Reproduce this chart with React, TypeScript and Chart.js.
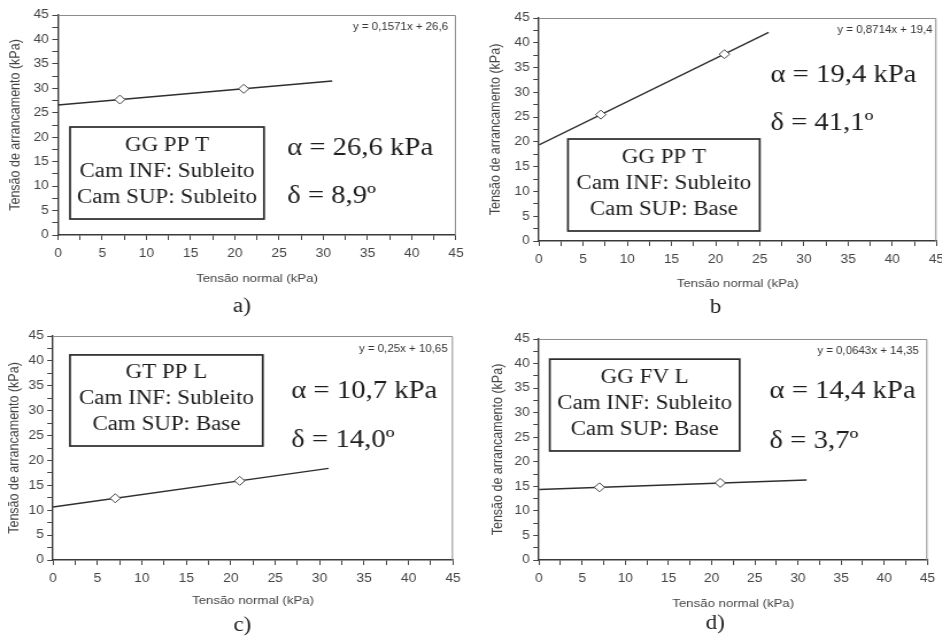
import React, { useEffect, useRef } from 'react';
import { Chart, registerables } from 'chart.js';

Chart.register(...registerables);

// ---------------- DATA ----------------
// Normal stress of the two pull-out tests (kPa)
const testNormalStress = [7, 21];
// Pull-out stress measured in each panel (kPa)
const pulloutA = [27.7, 29.9];
const pulloutB = [25.5, 37.7];
const pulloutC = [12.4, 15.9];
const pulloutD = [14.8, 15.7];
// Trend line end points (kPa)
const trendStressA = [0, 31];
const trendPulloutA = [26.6, 31.5];
const trendStressB = [0, 26];
const trendPulloutB = [19.4, 42.1];
const trendStressC = [0, 31];
const trendPulloutC = [10.65, 18.4];
const trendStressD = [0, 31];
const trendPulloutD = [14.35, 16.3];

const tickLabels = ['0', '5', '10', '15', '20', '25', '30', '35', '40', '45'];
const xAxisTitle = 'Tensão normal (kPa)';
const yAxisTitle = 'Tensão de arrancamento (kPa)';

const equationLabels = ['y = 0,1571x + 26,6', 'y = 0,8714x + 19,4', 'y = 0,25x + 10,65', 'y = 0,0643x + 14,35'];
const alphaLabels = ['α = 26,6 kPa', 'α = 19,4 kPa', 'α = 10,7 kPa', 'α = 14,4 kPa'];
const deltaLabels = ['δ = 8,9º', 'δ = 41,1º', 'δ = 14,0º', 'δ = 3,7º'];
const boxTitles = ['GG PP T', 'GG PP T', 'GT PP L', 'GG FV L'];
const boxLowerLayer = ['Cam INF: Subleito', 'Cam INF: Subleito', 'Cam INF: Subleito', 'Cam INF: Subleito'];
const boxUpperLayer = ['Cam SUP: Subleito', 'Cam SUP: Base', 'Cam SUP: Base', 'Cam SUP: Base'];
const panelLetters = ['a)', 'b', 'c)', 'd)'];

const pulloutSeries = [pulloutA, pulloutB, pulloutC, pulloutD];
const trendStressSeries = [trendStressA, trendStressB, trendStressC, trendStressD];
const trendPulloutSeries = [trendPulloutA, trendPulloutB, trendPulloutC, trendPulloutD];

// ---------------- LAYOUT ----------------
const S = 471 / 410; // horizontal stretch of the scanned figure
const SANS = '"Liberation Sans", Arial, Helvetica, sans-serif';
const SERIF = '"Liberation Serif", "Times New Roman", Times, serif';

type Lay = {
  left: number; top: number; w: number; h: number;
  L: number; R: number; T: number; B: number;
  yTitleX: number; xTitleY: number;
  box: number[]; alpha: number[]; delta: number[]; eq: number[]; letter: number[];
};

const LAYOUT: Lay[] = [
  { left: 0, top: 0, w: 471, h: 318, L: 58, R: 456, T: 15, B: 235, yTitleX: 16, xTitleY: 279,
    box: [1.36, 23.29, 22.09, 3.27], alpha: [25.9, 17.8], delta: [25.9, 7.8], eq: [44.1, 42.5], letter: [20.8, -14.7] },
  { left: 471, top: 0, w: 480, h: 318, L: 68, R: 466, T: 18, B: 241, yTitleX: 25, xTitleY: 284,
    box: [3.28, 24.99, 20.58, 2.02], alpha: [26.2, 33.5], delta: [26.2, 23.8], eq: [44.55, 42.6], letter: [20.0, -13.5] },
  { left: 0, top: 318, w: 471, h: 320, L: 53, R: 453, T: 18, B: 242, yTitleX: 14, xTitleY: 283,
    box: [1.91, 23.6, 41.2, 22.9], alpha: [26.8, 33.9], delta: [26.8, 24.1], eq: [44.4, 42.4], letter: [21.3, -13.3] },
  { left: 471, top: 318, w: 471, h: 320, L: 68, R: 463, T: 21, B: 242, yTitleX: 27, xTitleY: 286,
    box: [1.25, 23.24, 40.9, 22.2], alpha: [26.7, 34.4], delta: [26.7, 24.2], eq: [44.0, 42.6], letter: [20.4, -13.0] },
];

const tickCallback = (v: any) => {
  const n = Number(v);
  return Math.abs(n % 5) < 1e-6 ? tickLabels[Math.round(n / 5)] : '';
};

function makeTextPlugin(i: number) {
  const lay = LAYOUT[i];
  return {
    id: 'panelText' + i,
    afterDraw(chart: any) {
      const { ctx, chartArea: ca, scales } = chart;
      const px = (v: number) => scales.x.getPixelForValue(v);
      const py = (v: number) => scales.y.getPixelForValue(v);
      ctx.save();
      // top / right frame of plot area
      ctx.strokeStyle = '#8c8c8c';
      ctx.lineWidth = 1;
      ctx.beginPath();
      ctx.moveTo(ca.left, ca.top + 0.5);
      ctx.lineTo(ca.right - 0.5, ca.top + 0.5);
      ctx.lineTo(ca.right - 0.5, ca.bottom);
      ctx.stroke();

      // legend-like box
      const [bx0, bx1, by0, by1] = lay.box;
      const x0 = px(bx0), x1 = px(bx1), y0 = py(by0), y1 = py(by1);
      ctx.fillStyle = '#ffffff';
      ctx.fillRect(x0, y0, x1 - x0, y1 - y0);
      ctx.strokeStyle = '#2a2a2a';
      ctx.lineWidth = 1.7;
      ctx.strokeRect(x0, y0, x1 - x0, y1 - y0);
      ctx.fillStyle = '#1e1e1e';
      ctx.font = `20px ${SERIF}`;
      ctx.textAlign = 'center';
      ctx.textBaseline = 'middle';
      const cx = (x0 + x1) / 2, cy = (y0 + y1) / 2 - 1.5;
      [boxTitles[i], boxLowerLayer[i], boxUpperLayer[i]].forEach((t, k) => {
        ctx.fillText(t, cx, cy + (k - 1) * 26);
      });

      // alpha / delta
      ctx.font = `25px ${SERIF}`;
      ctx.textAlign = 'left';
      ctx.fillStyle = '#1e1e1e';
      ctx.fillText(alphaLabels[i], px(lay.alpha[0]), py(lay.alpha[1]));
      ctx.fillText(deltaLabels[i], px(lay.delta[0]), py(lay.delta[1]));

      // trend-line equation
      ctx.font = `10px ${SANS}`;
      ctx.textAlign = 'right';
      ctx.fillStyle = '#333333';
      ctx.fillText(equationLabels[i], px(lay.eq[0]), py(lay.eq[1]));

      // panel letter
      ctx.font = `20px ${SERIF}`;
      ctx.textAlign = 'center';
      ctx.fillStyle = '#1e1e1e';
      ctx.fillText(panelLetters[i], px(lay.letter[0]), py(lay.letter[1]));
      ctx.restore();
    },
  };
}

function makeConfig(i: number): any {
  const lay = LAYOUT[i];
  const xTitleSize = 11.5;
  const yTitleSize = 12.5;
  const points = testNormalStress.map((x, k) => ({ x, y: pulloutSeries[i][k] }));
  const trend = trendStressSeries[i].map((x, k) => ({ x, y: trendPulloutSeries[i][k] }));
  return {
    type: 'scatter',
    data: {
      datasets: [
        {
          data: trend, showLine: true, borderColor: '#2e2e2e', borderWidth: 1.4,
          pointRadius: 0, fill: false, order: 2,
        },
        {
          data: points, showLine: false, pointStyle: 'rectRot', pointRadius: 4.5,
          borderColor: '#444444', backgroundColor: '#ffffff', borderWidth: 1, order: 1,
        },
      ],
    },
    options: {
      responsive: false,
      animation: false,
      devicePixelRatio: 1,
      layout: { padding: { left: 0, top: lay.T, right: (lay.w - lay.R) / S, bottom: 0 } },
      plugins: { legend: { display: false }, tooltip: { enabled: false } },
      scales: {
        x: {
          type: 'linear', min: 0, max: 45,
          afterFit: (s: any) => { s.height = lay.h - lay.B; },
          ticks: {
            stepSize: 2.5, autoSkip: false, maxRotation: 0, padding: 6,
            color: '#444444', font: { family: SANS, size: 12 }, callback: tickCallback,
          },
          grid: { drawOnChartArea: false, drawTicks: true, tickLength: 5, color: '#444444', tickWidth: 1 },
          border: { display: true, color: '#3a3a3a', width: 1.4 },
          title: {
            display: true, text: xAxisTitle, color: '#444444',
            font: { family: SANS, size: xTitleSize },
            padding: { top: 0, bottom: lay.h - lay.xTitleY - (xTitleSize * 1.2) / 2 },
          },
        },
        y: {
          type: 'linear', min: 0, max: 45,
          afterFit: (s: any) => { s.width = lay.L / S; },
          ticks: {
            stepSize: 2.5, autoSkip: false, padding: 3,
            color: '#444444', font: { family: SANS, size: 12 }, callback: tickCallback,
          },
          grid: { drawOnChartArea: false, drawTicks: true, tickLength: 5, color: '#444444', tickWidth: 1 },
          border: { display: true, color: '#3a3a3a', width: 1.4 },
          title: {
            display: true, text: yAxisTitle, color: '#444444',
            font: { family: SANS, size: yTitleSize },
            padding: { top: lay.yTitleX / S - (yTitleSize * 1.2) / 2, bottom: 0 },
          },
        },
      },
    },
    plugins: [makeTextPlugin(i)],
  };
}

export default function App() {
  const refs = useRef<(HTMLCanvasElement | null)[]>([]);
  useEffect(() => {
    const charts = LAYOUT.map((_, i) => new Chart(refs.current[i] as HTMLCanvasElement, makeConfig(i)));
    return () => charts.forEach((c) => c.destroy());
  }, []);
  return (
    <div style={{ position: 'absolute', left: 0, top: 0, width: 942, height: 638, overflow: 'hidden', background: '#ffffff' }}>
      {LAYOUT.map((lay, i) => (
        <canvas
          key={i}
          ref={(el) => { refs.current[i] = el; }}
          width={Math.round(lay.w / S)}
          height={lay.h}
          style={{ position: 'absolute', left: lay.left, top: lay.top, width: lay.w, height: lay.h }}
        />
      ))}
    </div>
  );
}
